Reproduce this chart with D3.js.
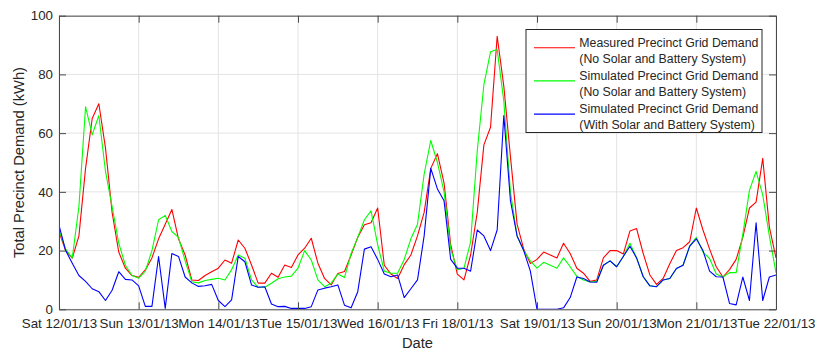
<!DOCTYPE html>
<html><head><meta charset="utf-8">
<script src="https://cdn.jsdelivr.net/npm/d3@7"></script>
<style>
body{margin:0;background:#fff}
svg{display:block}
text{font-family:"Liberation Sans",Arial,Helvetica,sans-serif}
</style>
</head><body>
<svg id="chart" width="815" height="352"></svg>
<script>
// Time axis: one sample every 2 hours, 12/01/13 00:00 onwards
const stepHours = 2;
const dayTickLabels = ["Sat 12/01/13","Sun 13/01/13","Mon 14/01/13","Tue 15/01/13","Wed 16/01/13",
  "Fri 18/01/13","Sat 19/01/13","Sun 20/01/13","Mon 21/01/13","Tue 22/01/13"];
const yTicks = [0,20,40,60,80,100];

const measuredNoSolar = [
26.4,20,17.4,25,48,65,70,55,33,19.5,14,11.5,
10.9,13.4,17.5,24,29,34,24,18.5,10,9.8,11.5,12.8,
14,16.8,15.7,23.6,20.8,15.1,8.9,8.9,12.3,10.9,15.1,14.2,
18.5,20.8,24.2,15.7,10.5,8.3,12.2,12.9,18.5,24.5,28.8,29.5,
34.5,15,12,10.5,15.2,18.5,25,33,48,53,43,22,
12,10,18.5,33,56,62,93,76,52,29,20.5,15.6,
17,19.5,18.5,17.5,22.5,19,14,12.3,9.5,10,17.5,20,
20,18.8,26.7,27.5,19,11.7,8.5,10.5,15.5,20,21,23,
34.5,27,20.5,14.5,11,13.5,17,24.5,34.5,36.5,51.4,28,
17.5];

const simulatedNoSolar = [
27,20.5,17.5,35,69,59.4,66,47,35,22.5,15,11.5,
10.6,13,20,30.5,32,26.5,24.5,16.5,9.4,9,9.8,10.2,
10.6,10,13.5,18.5,17.4,10,7.5,7.5,8.9,10.4,11,11.3,
14,20,16.8,10,7.7,8.9,12,10.8,19,24.5,30.5,33.5,
22,13,12.3,12.3,17,24,29,46,57.5,50,40,20.5,
13.5,14,23,54,76.5,87.7,88.5,71,40,25,20,16.5,
14,16,15,14,17.5,14.5,11.2,10,9.3,9.5,15,16.5,
14.5,18,22.5,17.5,11.1,8,7.7,10,10.5,13.9,15,21.5,
24.5,19.5,17.3,12,11,12.5,12.5,25.5,40.5,47,39,25,
12.5];

const simulatedWithSolar = [
28.7,20,15.7,11.5,9.5,7,6,3,6.5,12.8,10.2,10,
8,1,1,18,0.3,19,18,11,9,7.8,8,8.5,
3,0.9,3.2,18,16.2,8.3,7.5,7.7,1.8,0.9,1,0.3,
0.3,0.3,0.9,6.6,7.2,7.7,8.3,1.4,0.5,6,20.5,21.3,
17,12,11.1,11.7,4,7,10,25,48,41,37,17,
14,14,13,27,25,20,27,66,37,25,20,13,
0,0,0,0,0.5,4,11,10.5,9.3,9.2,15,16.5,
14.5,18,21.5,17.5,11.1,8,7.7,10,10.5,13.9,15,21.5,
24,20,13,11.1,11,2,1.5,11,3,29.5,3,11,
11.7];

const seriesNames = [
  ["Measured Precinct Grid Demand","(No Solar and Battery System)"],
  ["Simulated Precinct Grid Demand","(No Solar and Battery System)"],
  ["Simulated Precinct Grid Demand","(With Solar and Battery System)"]
];
const seriesColors = ["#ff0000","#00ff00","#0000ff"];
const seriesData = [measuredNoSolar, simulatedNoSolar, simulatedWithSolar];

const svg = d3.select("#chart");
const L = 59, R = 776, T = 15.7, B = 309.3;
const totalHours = (dayTickLabels.length - 1) * 24;
const x = d3.scaleLinear().domain([0, totalHours]).range([L, R]);
const y = d3.scaleLinear().domain([0, 100]).range([B, T]);
const xTickVals = dayTickLabels.map((_, i) => i * 24);
const ink = "#262626";

// grid
const grid = svg.append("g");
grid.selectAll(".gx").data(xTickVals).join("line")
  .attr("x1", d => x(d)).attr("x2", d => x(d)).attr("y1", T).attr("y2", B)
  .attr("stroke", "#e3e3e3").attr("stroke-width", 1);
grid.selectAll(".gy").data(yTicks).join("line")
  .attr("x1", L).attr("x2", R).attr("y1", d => y(d)).attr("y2", d => y(d))
  .attr("stroke", "#e3e3e3").attr("stroke-width", 1);

// series
svg.append("clipPath").attr("id","clip").append("rect")
  .attr("x", L).attr("y", T).attr("width", R - L).attr("height", B - T);
const line = d3.line().x((d, i) => x(i * stepHours)).y(d => y(d));
const lines = svg.append("g").attr("clip-path","url(#clip)");
seriesData.forEach((s, k) => {
  lines.append("path").datum(s).attr("d", line)
    .attr("fill","none").attr("stroke", seriesColors[k]).attr("stroke-width", 1.1)
    .attr("stroke-linejoin","round");
});

// axes
function style(g){
  g.select(".domain").attr("stroke", "#4a4a4a");
  g.selectAll(".tick line").attr("stroke", "#4a4a4a");
  g.selectAll("text").attr("fill", ink).style("font-size","13.3px")
    .style("font-family",'"Liberation Sans",Arial,sans-serif');
}
svg.append("g").attr("transform",`translate(0,${B})`)
  .call(d3.axisBottom(x).tickValues(xTickVals).tickFormat((d,i)=>dayTickLabels[i])
    .tickSizeInner(-7).tickSizeOuter(0).tickPadding(9)).call(style);
svg.append("g").attr("transform",`translate(0,${T})`)
  .call(d3.axisTop(x).tickValues(xTickVals).tickFormat("")
    .tickSizeInner(-7).tickSizeOuter(0)).call(style);
svg.append("g").attr("transform",`translate(${L},0)`)
  .call(d3.axisLeft(y).tickValues(yTicks).tickFormat(d3.format("d"))
    .tickSizeInner(-7).tickSizeOuter(0).tickPadding(6)).call(style);
svg.append("g").attr("transform",`translate(${R},0)`)
  .call(d3.axisRight(y).tickValues(yTicks).tickFormat("")
    .tickSizeInner(-7).tickSizeOuter(0)).call(style);

// axis titles
svg.append("text").attr("x", (L + R) / 2).attr("y", 348)
  .attr("text-anchor","middle").attr("fill", ink).style("font-size","14.7px").text("Date");
svg.append("text").attr("transform",`translate(23.5,${(T + B) / 2}) rotate(-90)`)
  .attr("text-anchor","middle").attr("fill", ink).style("font-size","14.7px")
  .text("Total Precinct Demand (kWh)");

// legend
const lg = svg.append("g");
lg.append("rect").attr("x", 526).attr("y", 29.5).attr("width", 236).attr("height", 103)
  .attr("fill","#fff").attr("stroke", ink).attr("stroke-width", 1);
seriesNames.forEach((names, k) => {
  const base = 46.5 + k * 33;
  lg.append("line").attr("x1", 534).attr("x2", 575)
    .attr("y1", 47.7 + k * 33.2).attr("y2", 47.7 + k * 33.2)
    .attr("stroke", seriesColors[k]).attr("stroke-width", 1.1);
  names.forEach((t, j) => {
    lg.append("text").attr("x", 579.3).attr("y", base + j * 16)
      .attr("fill", ink).style("font-size","12.3px").text(t);
  });
});
</script>
</body></html>
